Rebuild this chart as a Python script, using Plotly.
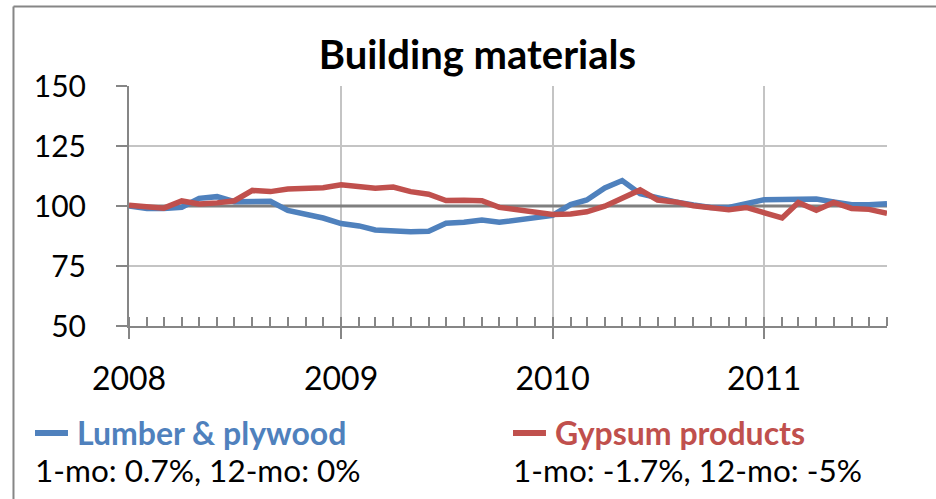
import pandas as pd
import plotly.graph_objects as go

# Monthly index values, Jan 2008 - Aug 2011 (Jan 2008 = 100)
months = pd.date_range("2008-01-01", periods=44, freq="MS")

lumber_plywood = [
    100.0, 99.0, 99.0, 99.5, 103.2, 103.9, 101.8, 101.8, 102.0, 98.2, 96.5, 95.0,
    92.7, 91.7, 90.0, 89.6, 89.3, 89.5, 92.8, 93.2, 94.2, 93.2, 94.2, 95.6,
    96.1, 100.6, 102.5, 107.5, 110.6, 105.1, 103.2, 101.7, 100.4, 99.4, 99.4, 100.7,
    102.6, 102.7, 103.0, 102.9, 101.7, 100.5, 100.5, 100.9,
]
gypsum_products = [
    100.3, 99.9, 99.1, 102.1, 100.8, 101.3, 102.2, 106.5, 106.0, 107.1, 107.6, 107.6,
    108.8, 107.8, 107.4, 107.9, 106.0, 104.9, 102.3, 102.4, 102.2, 99.4, 98.4, 97.1,
    96.5, 96.7, 97.6, 99.9, 103.4, 106.7, 102.5, 101.7, 100.1, 99.1, 98.4, 99.4,
    97.0, 95.0, 101.5, 98.2, 101.5, 99.0, 98.6, 97.0,
]

series_names = ["Lumber & plywood", "Gypsum products"]
series_stats = ["1-mo: 0.7%, 12-mo: 0%", "1-mo: -1.7%, 12-mo: -5%"]
y_ticks = [50, 75, 100, 125, 150]
baseline = 100
title_text = "Building materials"

BLUE = "#4F81BD"
RED = "#C0504D"
AXIS_GRAY = "#868686"
GRID_GRAY = "#C4C4C4"
FONT = "Lato"

fig = go.Figure()

# Dark reference line at the base value, drawn above the grid but under the series
fig.add_trace(go.Scatter(
    x=[months[0], months[-1]], y=[baseline, baseline], mode="lines",
    line=dict(color="#7F7F7F", width=3), showlegend=False, hoverinfo="skip",
))

for name, vals, color in [(series_names[0], lumber_plywood, BLUE),
                          (series_names[1], gypsum_products, RED)]:
    fig.add_trace(go.Scatter(
        x=months, y=vals, mode="lines", name=name,
        line=dict(color=color, width=5.5),
        showlegend=False, hoverinfo="skip",
    ))

# Outer chart frame (left and top edges)
fig.add_shape(type="line", xref="paper", yref="paper",
              x0=-0.1524, x1=-0.1524, y0=-1.0, y1=1.331,
              line=dict(color="#868686", width=2))
fig.add_shape(type="line", xref="paper", yref="paper",
              x0=-0.1524, x1=1.2, y0=1.331, y1=1.331,
              line=dict(color="#868686", width=2))

# Legend entries with monthly statistics underneath
legend_x = [-0.124, 0.5066]
for i, color in enumerate([BLUE, RED]):
    x0 = legend_x[i]
    fig.add_shape(type="line", xref="paper", yref="paper",
                  x0=x0, x1=x0 + 0.0435, y0=-0.4458, y1=-0.4458,
                  line=dict(color=color, width=6))
    fig.add_annotation(xref="paper", yref="paper", x=x0 + 0.053, y=-0.4458,
                       xanchor="left", yanchor="middle", showarrow=False,
                       text=f"<b>{series_names[i]}</b>",
                       font=dict(family=FONT, size=32, color=color))
    fig.add_annotation(xref="paper", yref="paper", x=x0 - 0.003, y=-0.60,
                       xanchor="left", yanchor="middle", showarrow=False,
                       text=series_stats[i],
                       font=dict(family=FONT, size=31.5, color="black"))

fig.update_layout(
    width=936, height=499,
    margin=dict(l=129, r=49, t=86, b=173),
    paper_bgcolor="white", plot_bgcolor="white",
    font=dict(family=FONT, color="black"),
    title=dict(text=f"<b>{title_text}</b>", xref="container", yref="container",
               x=0.510, y=0.89, xanchor="center", yanchor="middle",
               font=dict(family=FONT, size=40, color="black")),
    xaxis=dict(
        range=[months[0], months[-1]],
        tickformat="%Y", dtick="M12", tick0=months[0],
        ticks="outside", ticklen=11, tickwidth=2, tickcolor=AXIS_GRAY,
        showline=True, linecolor=AXIS_GRAY, linewidth=2,
        showgrid=True, gridcolor=GRID_GRAY, gridwidth=2,
        tickfont=dict(family=FONT, size=32, color="black"),
        ticklabelstandoff=13,
        minor=dict(dtick="M1", tick0=months[0], ticks="inside", ticklen=9,
                   tickwidth=2, tickcolor=AXIS_GRAY, showgrid=False),
        zeroline=False,
    ),
    xaxis2=dict(
        overlaying="x", matches="x", side="bottom", anchor="y",
        dtick="M12", tick0=months[0], ticks="inside", ticklen=9,
        tickwidth=2, tickcolor=AXIS_GRAY, showticklabels=False,
        showgrid=False, showline=False, zeroline=False,
    ),
    yaxis=dict(
        range=[50, 150], tickvals=y_ticks,
        ticks="outside", ticklen=11, tickwidth=2, tickcolor=AXIS_GRAY,
        showline=True, linecolor=AXIS_GRAY, linewidth=2,
        showgrid=True, gridcolor=GRID_GRAY, gridwidth=2,
        tickfont=dict(family=FONT, size=30, color="black"),
        ticklabelstandoff=24,
        zeroline=False,
    ),
)

# Invisible trace so the overlaid axis (year ticks pointing inward) is drawn
fig.add_trace(go.Scatter(x=[months[0], months[-1]], y=[None, None],
                         xaxis="x2", yaxis="y", mode="lines",
                         showlegend=False, hoverinfo="skip"))

fig.write_html("out.html")
